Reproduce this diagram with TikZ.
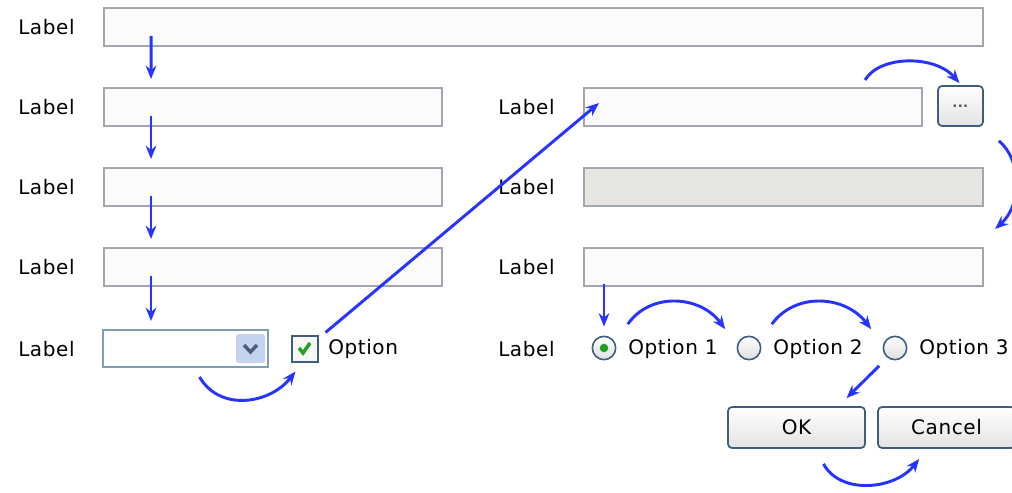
\documentclass[tikz,border=0pt]{standalone}
\usepackage{fontspec}
\setmainfont{DejaVu Sans}[LetterSpace=3]
\usepackage{xcolor}
\usetikzlibrary{arrows.meta,calc}
\definecolor{flowblue}{RGB}{38,52,255}
\definecolor{fieldgray}{RGB}{160,167,176}
\definecolor{fieldfill}{RGB}{251,251,251}
\definecolor{offfill}{RGB}{230,229,223}
\definecolor{btnedge}{RGB}{60,94,130}
\definecolor{combedge}{RGB}{127,157,185}
\definecolor{dropfill}{RGB}{196,212,240}
\definecolor{chevron}{RGB}{77,94,125}
\definecolor{checkgreen}{RGB}{33,161,33}

\begin{document}
\begin{tikzpicture}[x=0.75pt,y=-0.75pt,
    every node/.style={font=\fontsize{15pt}{18pt}\selectfont,inner sep=0pt},
    lbl/.style={anchor=west},
    field/.style={draw=fieldgray,fill=fieldfill,line width=1.5pt,
                  minimum height=28.5pt},
    off/.style={field,fill=offfill},
    btn/.style={draw=btnedge,line width=1.3pt,rounded corners=3pt,
                top color=white,bottom color=gray!22},
    radio/.style={circle,draw=btnedge,line width=1.2pt,minimum size=17.5pt,
                  top color=white,bottom color=gray!25},
    arr/.style={-{Stealth[length=10pt,width=8pt]},flowblue,line width=2.2pt},
  ]
    \useasboundingbox (0,0) rectangle (1012,492);
    \clip (0,0) rectangle (1012,492);

    % left column
    \node[lbl] (l1) at (18,27) {Label};
    \node[field,minimum width=659pt] (f1) at (543.5,27) {};
    \node[lbl] (l2) at (18,107) {Label};
    \node[field,minimum width=253.5pt] (f2) at (273,107) {};
    \node[lbl] (l3) at (18,187) {Label};
    \node[field,minimum width=253.5pt] (f3) at (273,187) {};
    \node[lbl] (l4) at (18,267) {Label};
    \node[field,minimum width=253.5pt] (f4) at (273,267) {};
    \node[lbl] (l5) at (18,349) {Label};
    \node[draw=combedge,fill=white,line width=1.5pt,minimum width=123.75pt,
          minimum height=27.75pt] (combo) at (185.5,348.5) {};
    \node[fill=dropfill,rounded corners=2pt,minimum size=21.75pt]
      (drop) at (250.5,348.5) {};
    \draw[chevron,line width=2.6pt] (244,345) -- (250.5,352) -- (257,345);
    \node[draw=btnedge,fill=gray!6,line width=1.5pt,minimum size=19.5pt]
      (chk) at (304.5,348.5) {};
    \draw[checkgreen,line width=2.6pt] (299,348) -- (303,353) -- (310,343);
    \node[lbl] (opt) at (328,349) {Option};

    % right column
    \node[lbl] (r2) at (498,107) {Label};
    \node[field,minimum width=253.5pt] (g2) at (753,107) {};
    \node[btn,minimum width=33.75pt,minimum height=30pt,
          font=\fontsize{10pt}{11pt}\selectfont] (dots) at (960.5,106)
      {\textcolor{gray!70!black}{\textbf{...}}};
    \node[lbl] (r3) at (498,187) {Label};
    \node[off,minimum width=299.25pt] (g3) at (783.5,187) {};
    \node[lbl] (r4) at (498,267) {Label};
    \node[field,minimum width=299.25pt] (g4) at (783.5,267) {};
    \node[lbl] (r5) at (498,349) {Label};
    \node[radio] (rb1) at (604,348) {};
    \fill[checkgreen] (rb1) circle (3.2pt);
    \node[lbl] (o1) at (628,349) {Option 1};
    \node[radio] (rb2) at (749,348) {};
    \node[lbl] (o2) at (773,349) {Option 2};
    \node[radio] (rb3) at (895,348) {};
    \node[lbl] (o3) at (919,349) {Option 3};
    \node[btn,minimum width=102.75pt,minimum height=30.75pt] (ok)
      at (796.5,427.5) {OK};
    \node[btn,minimum width=102.75pt,minimum height=30.75pt] (cancel)
      at (946.5,427.5) {Cancel};

    % tab order
    \draw[arr] ($(f1.south west)+(48,-11)$) -- ($(f2.north west)+(48,-8)$);
    \draw[arr] ($(f2.south west)+(48,-11)$) -- ($(f3.north west)+(48,-8)$);
    \draw[arr] ($(f3.south west)+(48,-11)$) -- ($(f4.north west)+(48,-8)$);
    \draw[arr] ($(f4.south west)+(48,-11)$) -- ($(combo.north west)+(49,-8)$);
    \draw[arr] ($(combo.south)+(14,9)$) .. controls (220,412) and (270,404)
      .. ($(chk.south west)+(5,9)$);
    \draw[arr] ($(chk.north east)+(7,-2)$) -- ($(g2.west)+(16,-4)$);
    \draw[arr] ($(g2.north east)+(-58,-7)$) .. controls (880,55) and (935,55)
      .. ($(dots.north)+(-1,-2)$);
    \draw[arr] ($(dots.south east)+(15,14)$) .. controls (1022,160) and (1022,205)
      .. ($(g4.north east)+(11,-18)$);
    \draw[arr] ($(g4.south west)+(21,-3)$) -- ($(rb1.north)+(0,-9)$);
    \draw[arr] ($(rb1.north east)+(15,-15)$) .. controls (650,292) and (700,295)
      .. ($(rb2.north west)+(-15,-10)$);
    \draw[arr] ($(rb2.north east)+(14,-15)$) .. controls (795,292) and (845,295)
      .. ($(rb3.north west)+(-15,-10)$);
    \draw[arr] ($(rb3.south west)+(-7,9)$) -- ($(ok.north)+(50,-8)$);
    \draw[arr] ($(ok.south)+(27,15)$) .. controls (840,495) and (895,490)
      .. ($(cancel.south west)+(42,10)$);
\end{tikzpicture}
\end{document}
